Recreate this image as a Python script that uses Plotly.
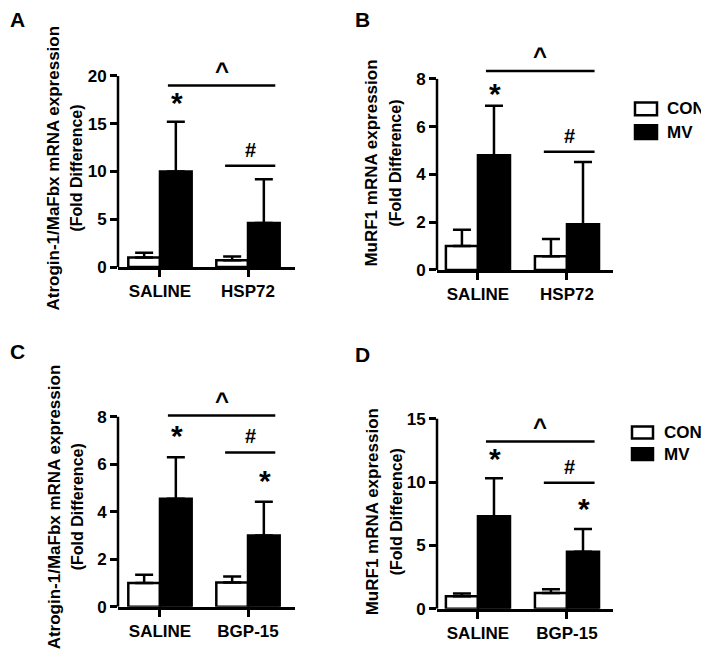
import plotly.graph_objects as go

# ---------------- data ----------------
groups_top = ["SALINE", "HSP72"]
groups_bottom = ["SALINE", "BGP-15"]
series = ["CON", "MV"]

# Panel A: Atrogin-1/MaFbx (HSP72)
a_con = [1.0, 0.7]
a_con_err = [0.5, 0.4]
a_mv = [10.0, 4.6]
a_mv_err = [5.2, 4.6]

# Panel B: MuRF1 (HSP72)
b_con = [1.0, 0.58]
b_con_err = [0.68, 0.72]
b_mv = [4.8, 1.92]
b_mv_err = [2.08, 2.6]

# Panel C: Atrogin-1/MaFbx (BGP-15)
c_con = [1.0, 1.02]
c_con_err = [0.35, 0.26]
c_mv = [4.55, 3.0]
c_mv_err = [1.75, 1.42]

# Panel D: MuRF1 (BGP-15)
d_con = [1.0, 1.25]
d_con_err = [0.2, 0.3]
d_mv = [7.3, 4.5]
d_mv_err = [3.0, 1.8]

# significance bar heights: (^ line, # line)
a_sig = [19.0, 10.6]
b_sig = [8.33, 4.95]
c_sig = [8.05, 6.5]
d_sig = [13.2, 9.95]
# star heights for MV bars (None = no star)
a_star = [17.2, None]
b_star = [7.4, None]
c_star = [7.2, 5.3]
d_star = [11.9, 7.9]

y_titles = ["Atrogin-1/MaFbx mRNA expression", "MuRF1 mRNA expression",
            "Atrogin-1/MaFbx mRNA expression", "MuRF1 mRNA expression"]
y_sub = "(Fold Difference)"
letters = ["A", "B", "C", "D"]
tick_top = [20, 8, 8, 15]
tick_step = [5, 2, 2, 5]

# ---------------- layout geometry (target pixels in the 709x672 window) ----------------
PAGE_W, PAGE_H = 709, 672
OFF = 8                      # default body margin of the html page
W, H = PAGE_W - OFF, PAGE_H - OFF
FONT = "Liberation Sans, Arial, sans-serif"
LW = 2.5

panels = [
    dict(cats=groups_top, con=a_con, cone=a_con_err, mv=a_mv, mve=a_mv_err, sig=a_sig, star=a_star,
         x0=118, x1=295, xr=[-0.477, 1.534], y0=271, yt=77, ext=1.1),
    dict(cats=groups_top, con=b_con, cone=b_con_err, mv=b_mv, mve=b_mv_err, sig=b_sig, star=b_star,
         x0=437, x1=613, xr=[-0.46, 1.517], y0=274, yt=80, ext=1.12),
    dict(cats=groups_bottom, con=c_con, cone=c_con_err, mv=c_mv, mve=c_mv_err, sig=c_sig, star=c_star,
         x0=118, x1=295, xr=[-0.477, 1.534], y0=616, yt=423, ext=1.12),
    dict(cats=groups_bottom, con=d_con, cone=d_con_err, mv=d_mv, mve=d_mv_err, sig=d_sig, star=d_star,
         x0=437, x1=613, xr=[-0.46, 1.517], y0=618, yt=425, ext=1.1),
]

fig = go.Figure()
shapes = []
annotations = []

def fx(px):
    return (px - OFF) / W

def fy(py):
    return 1 - (py - OFF) / H

for i, p in enumerate(panels):
    n = "" if i == 0 else str(i + 1)
    xa, ya = "x" + n, "y" + n
    top = tick_top[i]
    ymax = top * p["ext"]
    ppu = (p["y0"] - p["yt"]) / top
    dom_top_px = p["y0"] - ymax * ppu

    fig.add_trace(go.Bar(
        x=p["cats"], y=p["con"], name="CON", showlegend=False,
        marker=dict(color="white", line=dict(color="black", width=LW)),
        error_y=dict(type="data", symmetric=False, array=p["cone"], arrayminus=[0, 0],
                     color="black", thickness=LW, width=9),
        xaxis=xa, yaxis=ya, offsetgroup="con"))
    fig.add_trace(go.Bar(
        x=p["cats"], y=p["mv"], name="MV", showlegend=False,
        marker=dict(color="black", line=dict(color="black", width=LW)),
        error_y=dict(type="data", symmetric=False, array=p["mve"], arrayminus=[0, 0],
                     color="black", thickness=LW, width=9),
        xaxis=xa, yaxis=ya, offsetgroup="mv"))

    xkey = "xaxis" + n
    ykey = "yaxis" + n
    fig.layout[xkey] = dict(
        domain=[fx(p["x0"]), fx(p["x1"])], anchor=ya, type="category",
        range=p["xr"], showline=True, linecolor="black", linewidth=LW,
        ticks="outside", ticklen=7, tickwidth=LW, tickcolor="black",
        showgrid=False, zeroline=False, fixedrange=True,
        tickfont=dict(family=FONT, size=17, color="black", weight="bold"))
    fig.layout[ykey] = dict(
        domain=[fy(p["y0"]), fy(dom_top_px)], anchor=xa,
        range=[0, ymax], showline=False, showgrid=False, zeroline=False,
        tickvals=list(range(0, top + 1, tick_step[i])),
        ticks="outside", ticklen=7, tickwidth=LW, tickcolor="black",
        fixedrange=True,
        tickfont=dict(family=FONT, size=17, color="black", weight="bold"))

    # y axis line up to the top tick
    shapes.append(dict(type="line", xref=xa + " domain", yref=ya, x0=0, x1=0, y0=0, y1=top,
                       line=dict(color="black", width=LW)))
    # significance lines
    shapes.append(dict(type="line", xref=xa, yref=ya, x0=0.09, x1=1.31,
                       y0=p["sig"][0], y1=p["sig"][0], line=dict(color="black", width=LW)))
    shapes.append(dict(type="line", xref=xa, yref=ya, x0=0.74, x1=1.31,
                       y0=p["sig"][1], y1=p["sig"][1], line=dict(color="black", width=LW)))
    annotations.append(dict(xref=xa, yref=ya, x=0.70, y=p["sig"][0], text="^", showarrow=False,
                            yanchor="bottom", yshift=0,
                            font=dict(family=FONT, size=24, color="black", weight="bold")))
    annotations.append(dict(xref=xa, yref=ya, x=1.025, y=p["sig"][1], text="#", showarrow=False,
                            yanchor="bottom", yshift=3,
                            font=dict(family=FONT, size=20, color="black", weight="bold")))
    for k, s in enumerate(p["star"]):
        if s is not None:
            annotations.append(dict(xref=xa, yref=ya, x=k + 0.19, y=s, text="*", showarrow=False,
                                    yanchor="middle", yshift=0,
                                    font=dict(family=FONT, size=30, color="black", weight="bold")))

# axis titles and panel letters (target pixel positions)
title_pos = [(54, 77, 171), (372, 396, 166), (54, 77, 515), (372, 396, 520)]
letter_pos = [(17, 20), (362, 20), (17, 357), (362, 360)]
for i in range(4):
    x1p, x2p, yc = title_pos[i]
    annotations.append(dict(xref="paper", yref="paper", x=fx(x1p), y=fy(yc), text=y_titles[i],
                            textangle=-90, showarrow=False, xanchor="center", yanchor="middle",
                            font=dict(family=FONT, size=17, color="black", weight="bold")))
    annotations.append(dict(xref="paper", yref="paper", x=fx(x2p), y=fy(yc), text=y_sub,
                            textangle=-90, showarrow=False, xanchor="center", yanchor="middle",
                            font=dict(family=FONT, size=16, color="black", weight="bold")))
    lx, ly = letter_pos[i]
    annotations.append(dict(xref="paper", yref="paper", x=fx(lx), y=fy(ly), text=letters[i],
                            showarrow=False, xanchor="center", yanchor="middle", borderpad=0,
                            font=dict(family=FONT, size=21, color="black", weight="bold")))

# legends (top right of B and D)
legend_pos = [((635, 657), (104, 117), (127, 141), 665, 110, 134),
              ((632, 653), (433, 445), (455, 467), 662, 439, 461)]
for (bx, con_y, mv_y, tx, ty1, ty2) in legend_pos:
    shapes.append(dict(type="rect", xref="paper", yref="paper", x0=fx(bx[0]), x1=fx(bx[1]),
                       y0=fy(con_y[1]), y1=fy(con_y[0]), fillcolor="white",
                       line=dict(color="black", width=LW)))
    shapes.append(dict(type="rect", xref="paper", yref="paper", x0=fx(bx[0]), x1=fx(bx[1]),
                       y0=fy(mv_y[1]), y1=fy(mv_y[0]), fillcolor="black",
                       line=dict(color="black", width=LW)))
    annotations.append(dict(xref="paper", yref="paper", x=fx(tx), y=fy(ty1), text=series[0],
                            showarrow=False, xanchor="left", yanchor="middle",
                            font=dict(family=FONT, size=17, color="black", weight="bold")))
    annotations.append(dict(xref="paper", yref="paper", x=fx(tx), y=fy(ty2), text=series[1],
                            showarrow=False, xanchor="left", yanchor="middle",
                            font=dict(family=FONT, size=17, color="black", weight="bold")))

fig.update_layout(
    width=W, height=H, margin=dict(l=0, r=0, t=0, b=0),
    paper_bgcolor="white", plot_bgcolor="white",
    barmode="group", bargap=0.28, bargroupgap=0,
    showlegend=False, shapes=shapes, annotations=annotations,
    font=dict(family=FONT, color="black"))

fig.write_html("out.html", config={"displayModeBar": False})
